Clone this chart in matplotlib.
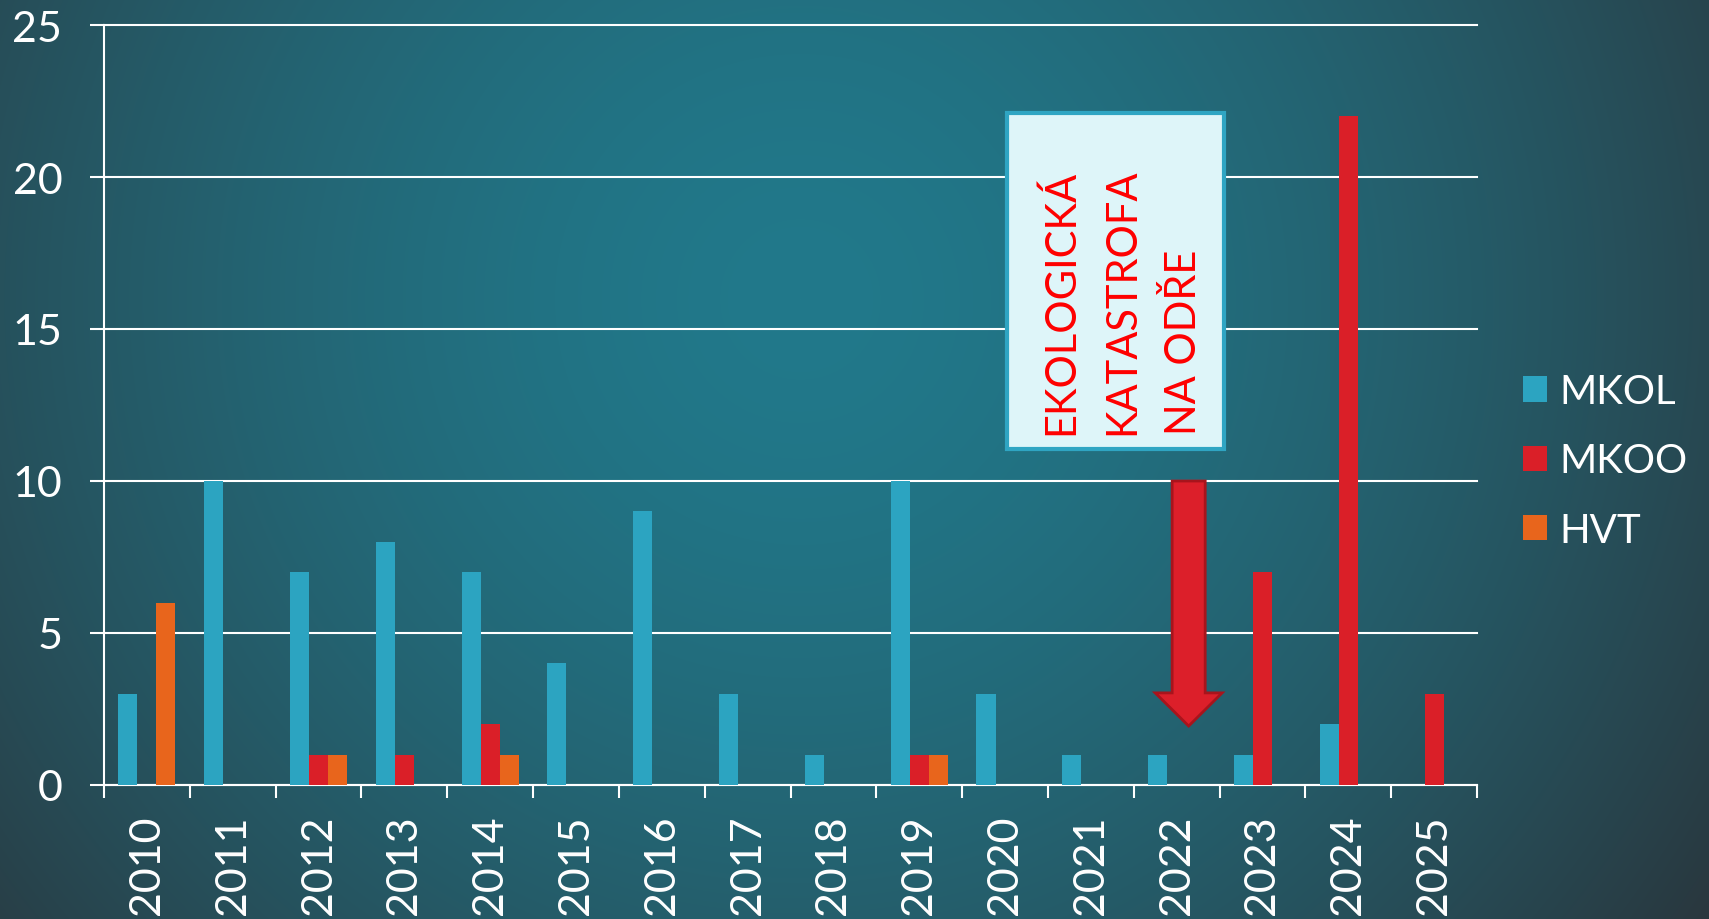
import numpy as np
import matplotlib
matplotlib.use("Agg")
from matplotlib import pyplot as plt
from matplotlib.patches import Rectangle, FancyArrow

# data
years = ['2010', '2011', '2012', '2013', '2014', '2015', '2016', '2017',
         '2018', '2019', '2020', '2021', '2022', '2023', '2024', '2025']
mkol = [3, 10, 7, 8, 7, 4, 9, 3, 1, 10, 3, 1, 1, 1, 2, 0]
mkoo = [0, 0, 1, 1, 2, 0, 0, 0, 0, 1, 0, 0, 0, 7, 22, 3]
hvt = [6, 0, 1, 0, 1, 0, 0, 0, 0, 1, 0, 0, 0, 0, 0, 0]
series_names = ['MKOL', 'MKOO', 'HVT']
note = 'EKOLOGICKÁ\nKATASTROFA\nNA ODŘE'

plt.rcParams['font.family'] = ['Lato', 'DejaVu Sans']

W, H = 1709, 920
fig = plt.figure(figsize=(W / 100, H / 100), dpi=100)

# radial background gradient
bg = fig.add_axes([0, 0, 1, 1])
yy, xx = np.mgrid[0:H, 0:W]
t = np.sqrt((xx - 800) ** 2 + (yy - 300) ** 2) / 1150
t = np.clip(t, 0, 1) ** 1.6
c_in = np.array([33, 121, 139]) / 255
c_out = np.array([42, 50, 56]) / 255
img = c_in[None, None, :] * (1 - t[..., None]) + c_out[None, None, :] * t[..., None]
bg.imshow(img, aspect='auto', interpolation='bilinear')
bg.axis('off')

ax = fig.add_axes([104 / W, 1 - 786 / H, (1477 - 104) / W, (786 - 26) / H])
ax.set_facecolor('none')

x = np.arange(len(years))
w = 0.222
b1 = ax.bar(x - w, mkol, w, color='#2ca4c1', label=series_names[0], zorder=3)
b2 = ax.bar(x, mkoo, w, color='#da1f28', label=series_names[1], zorder=3)
b3 = ax.bar(x + w, hvt, w, color='#e8651c', label=series_names[2], zorder=3)

ax.set_xlim(-0.5, len(years) - 0.5)
ax.set_ylim(0, 25)
ax.set_yticks([0, 5, 10, 15, 20, 25])
ax.set_xticks(np.arange(len(years) + 1) - 0.5)
ax.set_xticklabels([])
ax.set_xticks(x, minor=True)
ax.set_xticklabels(years, minor=True, rotation=90)

ax.tick_params(axis='x', which='major', length=9.5, width=1.5, color='white')
ax.tick_params(axis='x', which='minor', length=0, pad=21, labelsize=31, labelcolor='white')
ax.tick_params(axis='y', length=10, width=1.5, color='white', pad=20,
               labelsize=31, labelcolor='white')

for s in ['top', 'right']:
    ax.spines[s].set_visible(False)
for s in ['left', 'bottom']:
    ax.spines[s].set_color('white')
    ax.spines[s].set_linewidth(1.5)

ax.set_axisbelow(True)
ax.grid(axis='y', color='white', linewidth=1.5)
for gl in ax.get_ygridlines():
    gl.set_clip_on(False)

# annotation box
ax.add_patch(Rectangle((10.02, 11.05), 2.53, 11.05, facecolor='#def5f9',
                       edgecolor='#2fa5c3', linewidth=3, zorder=4))
ax.text(10.42, 11.55, note, rotation=90, ha='left', va='bottom',
        multialignment='left', color='#ff0000', fontsize=30,
        linespacing=1.72, zorder=5)

# arrow down towards 2022
ax.add_patch(FancyArrow(12.14, 10, 0, -8.06, width=0.385, head_width=0.78,
                        head_length=1.09, length_includes_head=True,
                        facecolor='#dc1f2a', edgecolor='#a8141c',
                        linewidth=2, zorder=4))

leg = ax.legend(handles=[b1, b2, b3], loc='center left',
                bbox_to_anchor=(1523 / W, 1 - 462 / H),
                bbox_transform=fig.transFigure, frameon=False,
                fontsize=29, handlelength=0.6, handleheight=0.6,
                handletextpad=0.3, labelspacing=0.8, borderpad=0,
                borderaxespad=0)
for txt in leg.get_texts():
    txt.set_color('white')

fig.savefig('out.png', dpi=100)
